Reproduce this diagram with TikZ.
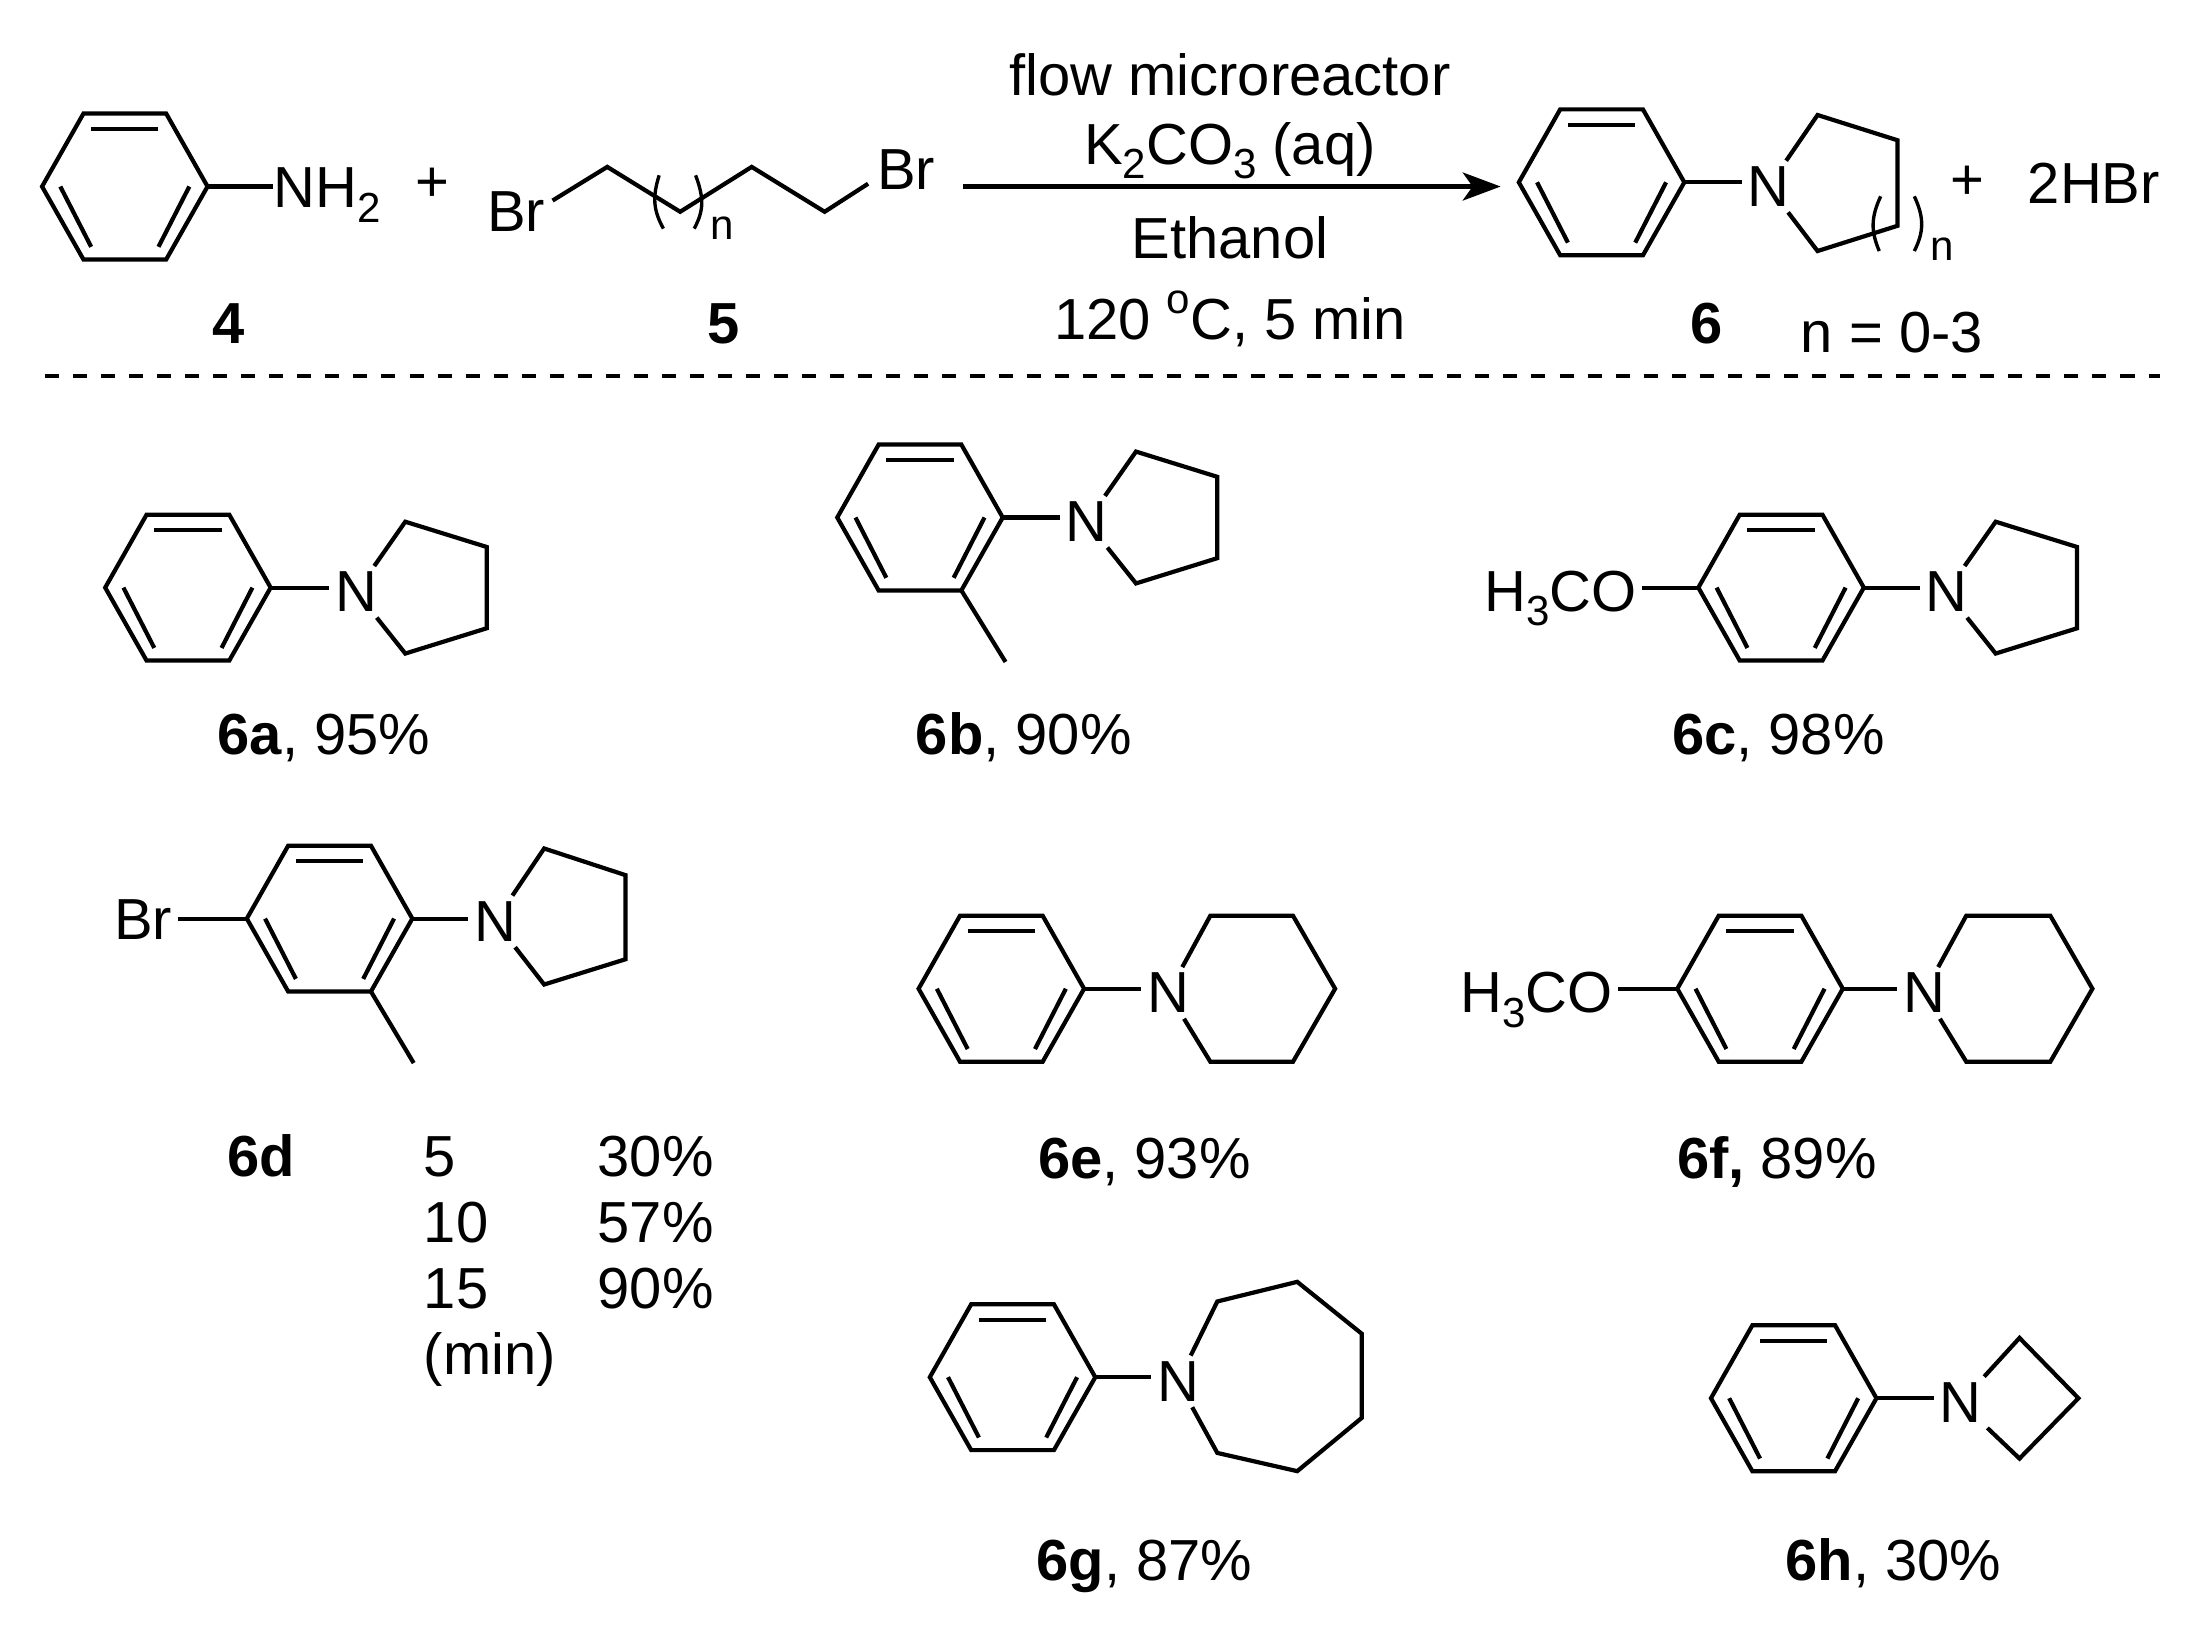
\documentclass[tikz,border=0pt]{standalone}
\usepackage{fontspec}
\setmainfont{Liberation Sans}
\usetikzlibrary{arrows.meta}
\newcommand{\lowr}[1]{\raisebox{-0.25em}{\fontsize{30}{32}\selectfont #1}}
\newcommand{\uppr}[1]{\raisebox{0.45em}{\fontsize{30}{32}\selectfont #1}}
\tikzset{
  bondline/.style={line width=3pt,line join=miter,line cap=butt},
  paren/.style={line width=2.4pt},
  txt/.style={font=\fontsize{41.3}{49}\selectfont,inner sep=0pt,anchor=base},
  ltxt/.style={txt,anchor=base west},
  atom/.style={font=\fontsize{41.3}{49}\selectfont,inner sep=4pt},
  smalln/.style={font=\fontsize{30}{32}\selectfont,inner sep=0pt,anchor=base},
  benz/.pic={
    \coordinate (-l) at (-59,0);
    \coordinate (-r) at (59,0);
    \coordinate (-tl) at (-29.5,-52);
    \coordinate (-tr) at (29.5,-52);
    \coordinate (-bl) at (-29.5,52);
    \coordinate (-br) at (29.5,52);
    \draw[bondline] (-l) -- (-tl) -- (-tr) -- (-r) -- (-br) -- (-bl) -- cycle;
    \draw[bondline] (-24,-41) -- (24,-41);
    \draw[bondline] (-46,0) -- (-24,43);
    \draw[bondline] (46,0) -- (24,43);
  }
}
\begin{document}
\begin{tikzpicture}[x=1pt,y=-1pt]
\useasboundingbox (0,0) rectangle (1568,1168);
\fill[white] (0,0) rectangle (1568,1168);

% top scheme
\pic (r4) at (89,133) {benz};
\node[ltxt] (nh) at (195,148) {NH\lowr{2}};
\draw[bondline] (r4-r) -- (r4-r -| nh.west);
\node[txt] (plusa) at (308,144) {+};

\node[atom] (brl) at (368,151) {Br};
\node[atom] (brr) at (646,121) {Br};
\coordinate (c0) at (394,143);
\coordinate (c1) at (433,119);
\coordinate (c2) at (485,151);
\coordinate (c3) at (536,119);
\coordinate (c4) at (588,151);
\coordinate (c5) at (619,131);
\draw[bondline] (c0) -- (c1) -- (c2) -- (c3) -- (c4) -- (c5);
\draw[paren] (470,125) .. controls (465,141) and (466,150) .. (473,163);
\draw[paren] (496,125) .. controls (502,141) and (502,150) .. (495,163);
\node[smalln] (n5) at (515,171) {n};

\node[txt] (ca) at (877,68) {flow microreactor};
\node[txt] (cb) at (877,117) {K\lowr{2}CO\lowr{3} (aq)};
\node[txt] (cc) at (877,184) {Ethanol};
\node[txt] (cd) at (877,242) {120 \uppr{o}C, 5 min};
\coordinate (arrS) at (687,133);
\coordinate (arrE) at (1070,133);
\draw[line width=3pt,-{Stealth[length=27pt,width=20pt,inset=7pt]}] (arrS) -- (arrE);

\pic (r6) at (1142,130) {benz};
\node[atom] (n6) at (1261,133) {N};
\draw[bondline] (r6-r) -- (r6-r -| n6.west);
\draw[bondline] (n6) -- (1296,82) -- (1353,100) -- (1353,161) -- (1296,179) -- (n6);
\draw[paren] (1341,140) .. controls (1334,155) and (1334,165) .. (1340,179);
\draw[paren] (1365,140) .. controls (1372,155) and (1372,165) .. (1365,179);
\node[smalln] (n6n) at (1385,186) {n};
\node[txt] (plusb) at (1403,142) {+};
\node[txt] (hbr) at (1493,145) {2HBr};

\node[txt] (l4) at (163,245) {\textbf{4}};
\node[txt] (l5) at (516,245) {\textbf{5}};
\node[txt] (l6) at (1217,245) {\textbf{6}};
\node[txt] (nr) at (1349,251) {n = 0-3};

\coordinate (dashS) at (32,268);
\coordinate (dashE) at (1540,268);
\draw[line width=3pt,dash pattern=on 10pt off 10pt] (dashS) -- (dashE);

% 6a
\pic (ra) at (134,419) {benz};
\node[atom] (na) at (254,422) {N};
\draw[bondline] (ra-r) -- (ra-r -| na.west);
\draw[bondline] (na) -- (289,372) -- (347,390) -- (347,448) -- (289,466) -- (na);
\node[txt] (la) at (231,538) {\textbf{6a}, 95\%};

% 6b
\pic (rb) at (656,369) {benz};
\node[atom] (nb) at (775,372) {N};
\draw[bondline] (rb-r) -- (rb-r -| nb.west);
\draw[bondline] (nb) -- (810,322) -- (868,340) -- (868,398) -- (810,416) -- (nb);
\coordinate (meb) at (717,472);
\draw[bondline] (rb-br) -- (meb);
\node[txt] (lb) at (730,538) {\textbf{6b}, 90\%};

% 6c
\pic (rc) at (1270,419) {benz};
\node[atom] (nc) at (1388,422) {N};
\draw[bondline] (rc-r) -- (rc-r -| nc.west);
\draw[bondline] (nc) -- (1423,372) -- (1481,390) -- (1481,448) -- (1423,466) -- (nc);
\node[txt,anchor=base east] (hc) at (1167,436) {H\lowr{3}CO};
\draw[bondline] (rc-l) -- ([xshift=4pt]rc-l -| hc.east);
\node[txt] (lc) at (1268,538) {\textbf{6c}, 98\%};

% 6d
\pic (rd) at (235,655) {benz};
\node[atom] (nd) at (353,657) {N};
\draw[bondline] (rd-r) -- (rd-r -| nd.west);
\draw[bondline] (nd) -- (388,605) -- (446,624) -- (446,684) -- (388,702) -- (nd);
\coordinate (med) at (295,758);
\draw[bondline] (rd-br) -- (med);
\node[atom] (brd) at (102,656) {Br};
\draw[bondline] (rd-l) -- (rd-l -| brd.east);
\node[txt] (ld) at (186,839) {\textbf{6d}};
\node[ltxt] (ta) at (302,839) {5};
\node[ltxt] (tb) at (302,886) {10};
\node[ltxt] (tc) at (302,933) {15};
\node[ltxt] (td) at (302,980) {(min)};
\node[ltxt] (te) at (426,839) {30\%};
\node[ltxt] (tf) at (426,886) {57\%};
\node[ltxt] (tg) at (426,933) {90\%};

% 6e
\pic (re) at (714,705) {benz};
\node[atom] (ne) at (833,708) {N};
\draw[bondline] (re-r) -- (re-r -| ne.west);
\draw[bondline] (ne) -- (863,653) -- (922,653) -- (952,705) -- (922,757) -- (863,757) -- (ne);
\node[txt] (le) at (816,840) {\textbf{6e}, 93\%};

% 6f
\pic (rf) at (1255,705) {benz};
\node[atom] (nf) at (1372,708) {N};
\draw[bondline] (rf-r) -- (rf-r -| nf.west);
\draw[bondline] (nf) -- (1402,653) -- (1462,653) -- (1492,705) -- (1462,757) -- (1402,757) -- (nf);
\node[txt,anchor=base east] (hf) at (1150,722) {H\lowr{3}CO};
\draw[bondline] (rf-l) -- ([xshift=4pt]rf-l -| hf.east);
\node[txt] (lf) at (1267,840) {\textbf{6f,} 89\%};

% 6g
\pic (rg) at (722,982) {benz};
\node[atom] (ng) at (840,985) {N};
\draw[bondline] (rg-r) -- (rg-r -| ng.west);
\draw[bondline] (ng) -- (868,928) -- (925,914) -- (971,951) -- (971,1011) -- (925,1049) -- (868,1036) -- (ng);
\node[txt] (lg) at (816,1127) {\textbf{6g}, 87\%};

% 6h
\pic (rh) at (1279,997) {benz};
\node[atom] (nh2) at (1398,1000) {N};
\draw[bondline] (rh-r) -- (rh-r -| nh2.west);
\draw[bondline] (nh2) -- (1440,954) -- (1482,997) -- (1440,1040) -- (nh2);
\node[txt] (lh) at (1350,1127) {\textbf{6h}, 30\%};
\end{tikzpicture}
\end{document}
